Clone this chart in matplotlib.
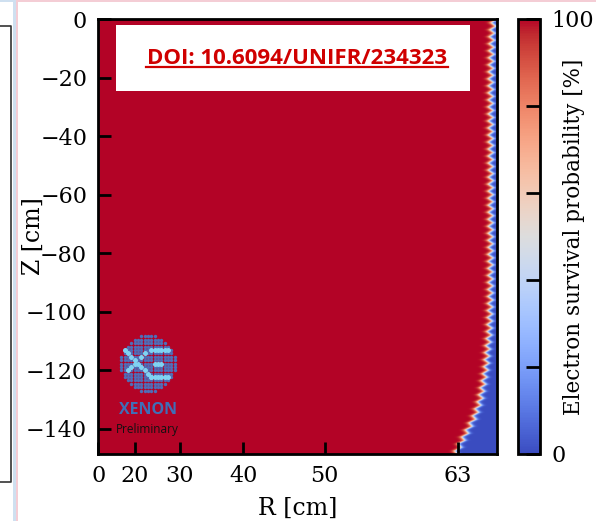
import numpy as np
import matplotlib
matplotlib.use("Agg")
import matplotlib.pyplot as plt
from matplotlib.patches import Rectangle
from matplotlib.lines import Line2D

plt.rcParams['font.family'] = 'DejaVu Serif'

# detector geometry (cm)
r_max = 66.4
z_min = -148.6

# survival boundary: z [cm] -> R^2 [cm^2] at 50 %
edge_z = [-148.6, -143.8, -141.4, -136.0, -130.2, -124.3, -118.9, -113.1,
          -107.3, -101.8, -95.9, -60.0, -20.0, -5.0, 0.0]
edge_r2 = [3944, 4021, 4062, 4153, 4216, 4252, 4282, 4296,
           4316, 4322, 4328, 4332, 4332, 4345, 4370]
edge_width = 14.0      # R^2 spread of the red->blue transition
ripple_amp = 55.0      # saw-tooth ripple along the wall
ripple_period = 2.4    # cm

x_tick_r = [0, 20, 30, 40, 50, 63]
y_ticks = [0, -20, -40, -60, -80, -100, -120, -140]
cb_ticks = [0, 20, 40, 60, 80, 100]

# build the map
r2 = np.linspace(0, r_max**2, 1400)
z = np.linspace(z_min, 0, 1200)
R2, Z = np.meshgrid(r2, z)
edge = np.interp(z, edge_z, edge_r2)
phase = (z / ripple_period) % 1.0
ripple = ripple_amp * (np.abs(phase - 0.5) * 2 - 0.5)
edge = (edge + ripple)[:, None]
prob = 100.0 / (1.0 + np.exp((R2 - edge) / edge_width))

fig = plt.figure(figsize=(5.96, 5.21), dpi=100)
W, H = 596, 521

def fx(px):
    return px / W

def fy(py):
    return 1 - py / H

ax = fig.add_axes([fx(98.3), fy(454), fx(497.5) - fx(98.3), fy(19) - fy(454)])
im = ax.imshow(prob, origin='lower', extent=[0, r_max**2, z_min, 0],
               aspect='auto', cmap='coolwarm', vmin=0, vmax=100,
               interpolation='bilinear')
ax.set_xlim(0, r_max**2)
ax.set_ylim(z_min, 0)
ax.set_xticks([r**2 for r in x_tick_r])
ax.set_xticklabels([str(r) for r in x_tick_r])
ax.set_yticks(y_ticks)
ax.set_yticklabels([f"\u2212{-t}" if t < 0 else "0" for t in y_ticks])
ax.tick_params(direction='in', length=9, width=2, labelsize=16, pad=8)
for s in ax.spines.values():
    s.set_linewidth(2)
ax.set_xlabel('R [cm]', fontsize=17, labelpad=7)
ax.set_ylabel('Z [cm]', fontsize=17)
ax.yaxis.set_label_coords(-0.133, 0.5)

# DOI box
ax.add_artist(Rectangle((fx(116), fy(91)), fx(470) - fx(116), fy(25) - fy(91),
                        transform=fig.transFigure, facecolor='white',
                        edgecolor='none', zorder=5))
fig.text(fx(297), fy(64.5), 'DOI: 10.6094/UNIFR/234323', color='#d00000',
         fontsize=16, fontweight='bold', family='Open Sans',
         ha='center', va='baseline', zorder=6)
fig.add_artist(Line2D([fx(146), fx(448)], [fy(67.5), fy(67.5)],
                      color='#d00000', lw=1.6, zorder=6))

# XENON logo
lax = fig.add_axes([fx(118), fy(394), fx(178) - fx(118), fy(333) - fy(394)])
lax.set_xlim(-9, 9)
lax.set_ylim(9, -9)
lax.axis('off')
gi, gj = np.meshgrid(np.arange(-8, 9), np.arange(-8, 9))
mask = gi**2 + gj**2 <= 8.3**2
lax.scatter(gi[mask], gj[mask], s=6, color='#4f6db8', lw=0)
cyan_i = [1, 2, 3, 4, 5, 6, -7, -6, -5, -4, -3, -2, -1, 0, 1,
          -1, -2, -4, -5, -6, 2, 3, 4, 1, 2, 3, 4, 5, 6]
cyan_j = [-4, -4, -4, -4, -4, -4, -4, -3, -2, -1, 0, 1, 2, 3, 4,
          -3, -2, 0, 1, 2, 0, 0, 0, 4, 4, 4, 4, 4, 4]
lax.scatter(cyan_i, cyan_j, s=13, color='#7fd3f2', lw=0)
fig.text(fx(148), fy(410), 'XENON', color='#3f6fb8', fontsize=11.5,
         fontweight='bold', family='Open Sans', ha='center', va='center')
fig.text(fx(147), fy(429), 'Preliminary', color='#111111', fontsize=8.5,
         family='Open Sans', ha='center', va='center')

# colorbar
cax = fig.add_axes([fx(518.3), fy(454), fx(540) - fx(518.3), fy(19) - fy(454)])
cb = fig.colorbar(im, cax=cax)
cb.set_ticks(cb_ticks)
cb.set_ticklabels(['0', '', '', '', '', '100'])
cax.tick_params(direction='in', length=10, width=2, labelsize=16, pad=8)
cb.outline.set_linewidth(2)
cb.set_label('Electron survival probability [%]', fontsize=15.5)
cax.yaxis.set_label_coords(2.06, 0.5)

# screenshot frame remnants on the left / top
fig.add_artist(Rectangle((fx(13), 0), fx(2.5), 1, transform=fig.transFigure,
                         facecolor='#cfe0f0', edgecolor='none'))
fig.add_artist(Rectangle((0, fy(1.5)), fx(15), fy(0) - fy(1.5),
                         transform=fig.transFigure, facecolor='#cfe0f0',
                         edgecolor='none'))
fig.add_artist(Rectangle((fx(16), 0), fx(1.5), 1, transform=fig.transFigure,
                         facecolor='#f4cdd5', edgecolor='none'))
fig.add_artist(Rectangle((fx(16), fy(1.5)), 1, fy(0) - fy(1.5),
                         transform=fig.transFigure, facecolor='#f4cdd5',
                         edgecolor='none'))
fig.add_artist(Line2D([0, fx(11), fx(11), 0],
                      [fy(26), fy(26), fy(482), fy(482)],
                      color='#333333', lw=1.2))

fig.savefig('out.png', dpi=100)
